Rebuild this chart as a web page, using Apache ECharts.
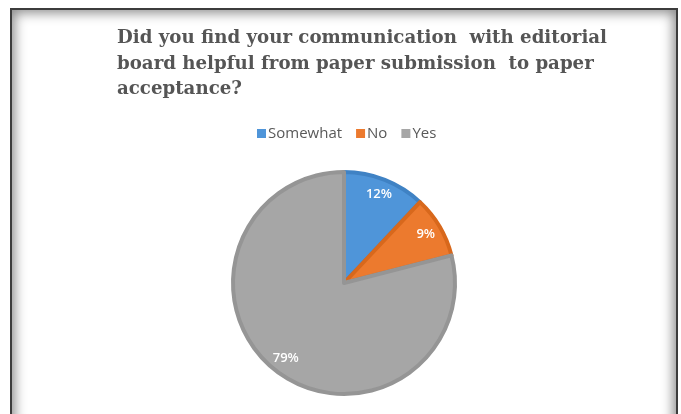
<!DOCTYPE html>
<html>
<head>
<meta charset="utf-8">
<script src="https://cdn.jsdelivr.net/npm/echarts@6/dist/echarts.min.js"></script>
<style>
  html, body { margin: 0; padding: 0; background: #ffffff; }
  #wrap { position: relative; width: 681px; height: 414px; overflow: hidden; }
  /* photo-style frame with inner shadow */
  #frame {
    position: absolute; left: 10px; top: 8px; width: 664px; height: 420px;
    border: 2px solid #3c3c3c;
    box-shadow: inset 0 0 12px 3px rgba(0,0,0,0.45);
    background: #ffffff;
  }
  #chart { position: absolute; left: 0; top: 0; width: 681px; height: 414px; }
</style>
</head>
<body>
<div id="wrap">
  <div id="frame"></div>
  <div id="chart"></div>
</div>
<script>
// Survey answers and their percentage shares
const categories = ['Somewhat', 'No', 'Yes'];
const shares = [12, 9, 79];
const fillColors = ['#4f95d9', '#ec7a2e', '#a6a6a6'];
const edgeColors = ['#3f82c4', '#d8681c', '#959595'];

const titleText = 'Did you find your communication  with editorial\nboard helpful from paper submission  to paper\nacceptance?';

const chart = echarts.init(document.getElementById('chart'), null, { renderer: 'canvas' });

const sliceData = categories.map((name, i) => ({
  name: name,
  value: shares[i],
  itemStyle: { color: fillColors[i], borderColor: edgeColors[i], borderWidth: 4 }
}));

const labelData = categories.map((name, i) => ({ name: name, value: shares[i] }));

chart.setOption({
  backgroundColor: 'transparent',
  animation: false,
  title: {
    text: titleText,
    left: 112,
    top: 21,
    textStyle: {
      fontFamily: 'DejaVu Serif',
      fontWeight: 'bold',
      fontSize: 18.2,
      color: '#555555',
      lineHeight: 25.5
    }
  },
  legend: {
    data: categories,
    top: 121,
    left: 252,
    itemWidth: 9,
    itemHeight: 9,
    itemGap: 14,
    icon: 'rect',
    itemStyle: { borderWidth: 0 },
    textStyle: { fontFamily: 'Open Sans', fontSize: 15, color: '#595959', padding: [0, 0, 0, -3] }
  },
  series: [
    {
      type: 'pie',
      center: [344, 283],
      radius: [0, 111],
      startAngle: 90,
      clockwise: true,
      silent: true,
      label: { show: false },
      labelLine: { show: false },
      data: sliceData
    },
    {
      // label-only ring so the percentages sit toward the outer edge
      type: 'pie',
      center: [344, 283],
      radius: [72, 112],
      startAngle: 90,
      clockwise: true,
      silent: true,
      legendHoverLink: false,
      itemStyle: { color: 'transparent', borderWidth: 0 },
      label: {
        show: true,
        position: 'inside',
        formatter: '{c}%',
        fontFamily: 'Open Sans',
        fontWeight: 600,
        fontSize: 13,
        color: '#ffffff'
      },
      labelLine: { show: false },
      data: labelData
    }
  ]
});
</script>
</body>
</html>
